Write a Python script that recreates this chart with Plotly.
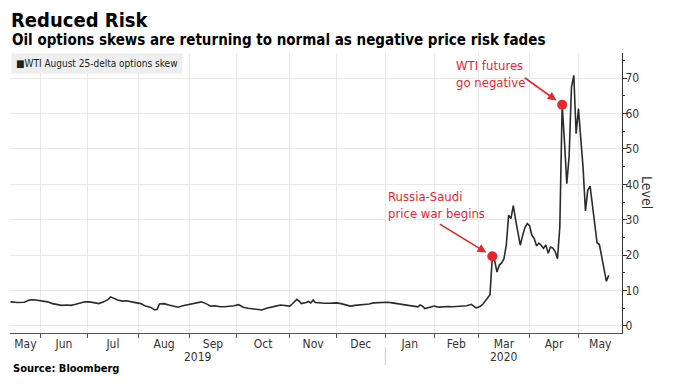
import pandas as pd
import plotly.graph_objects as go

# ---------------- data ----------------
dates = [
    "2019-05-14", "2019-05-17", "2019-05-22", "2019-05-24", "2019-05-29", "2019-05-31",
    "2019-06-04", "2019-06-06", "2019-06-10", "2019-06-12", "2019-06-14", "2019-06-18",
    "2019-06-20", "2019-06-24", "2019-06-26", "2019-06-28", "2019-07-02", "2019-07-05",
    "2019-07-09", "2019-07-11", "2019-07-15", "2019-07-16", "2019-07-17", "2019-07-19",
    "2019-07-23", "2019-07-25", "2019-07-29", "2019-07-31", "2019-08-02", "2019-08-06",
    "2019-08-08", "2019-08-12", "2019-08-13", "2019-08-14", "2019-08-16", "2019-08-20",
    "2019-08-22", "2019-08-26", "2019-08-28", "2019-08-30", "2019-09-04", "2019-09-06",
    "2019-09-10", "2019-09-12", "2019-09-16", "2019-09-18", "2019-09-20", "2019-09-24",
    "2019-09-26", "2019-09-30", "2019-10-02", "2019-10-04", "2019-10-08", "2019-10-10",
    "2019-10-14", "2019-10-16", "2019-10-18", "2019-10-22", "2019-10-24", "2019-10-28",
    "2019-10-30", "2019-11-01", "2019-11-04", "2019-11-06", "2019-11-07", "2019-11-08",
    "2019-11-12", "2019-11-13", "2019-11-14", "2019-11-15", "2019-11-18", "2019-11-20",
    "2019-11-22", "2019-11-26", "2019-12-02", "2019-12-04", "2019-12-06", "2019-12-10",
    "2019-12-12", "2019-12-16", "2019-12-18", "2019-12-20", "2019-12-24", "2019-12-27",
    "2019-12-31", "2020-01-03", "2020-01-07", "2020-01-09", "2020-01-13", "2020-01-15",
    "2020-01-17", "2020-01-22", "2020-01-23", "2020-01-24", "2020-01-27", "2020-01-28",
    "2020-01-30", "2020-02-03", "2020-02-05", "2020-02-07", "2020-02-11", "2020-02-13",
    "2020-02-18", "2020-02-20", "2020-02-24", "2020-02-26", "2020-02-27", "2020-02-28",
    "2020-03-02", "2020-03-03", "2020-03-04", "2020-03-05", "2020-03-06", "2020-03-09",
    "2020-03-10", "2020-03-11", "2020-03-12", "2020-03-13", "2020-03-16", "2020-03-17",
    "2020-03-18", "2020-03-19", "2020-03-20", "2020-03-23", "2020-03-24", "2020-03-25",
    "2020-03-26", "2020-03-27", "2020-03-30", "2020-03-31", "2020-04-01", "2020-04-02",
    "2020-04-03", "2020-04-06", "2020-04-07", "2020-04-08", "2020-04-09", "2020-04-13",
    "2020-04-14", "2020-04-15", "2020-04-16", "2020-04-17", "2020-04-20", "2020-04-21",
    "2020-04-22", "2020-04-23", "2020-04-24", "2020-04-27", "2020-04-28", "2020-04-29",
    "2020-04-30", "2020-05-01", "2020-05-04", "2020-05-05", "2020-05-06", "2020-05-07",
    "2020-05-08", "2020-05-11", "2020-05-12", "2020-05-13", "2020-05-14", "2020-05-15",
    "2020-05-18", "2020-05-19", "2020-05-20",
]
skew = [
    6.8, 6.6, 6.7, 7.3, 7.4, 7.2,
    7.1, 6.8, 6.3, 6.0, 5.8, 5.9,
    5.8, 6.1, 6.5, 6.8, 6.8, 6.6,
    6.3, 6.8, 7.5, 8.2, 7.9, 7.3,
    7.0, 7.1, 6.8, 6.6, 6.3, 5.6,
    5.3, 4.5, 4.7, 6.2, 6.3, 5.9,
    5.6, 5.3, 5.7, 6.0, 6.2, 6.5,
    6.8, 6.3, 5.6, 5.7, 5.4, 5.4,
    5.5, 5.7, 6.0, 5.3, 5.0, 4.9,
    4.8, 4.5, 5.0, 5.4, 5.6, 5.9,
    5.8, 5.6, 6.2, 7.5, 7.0, 6.3,
    6.6, 6.9, 6.5, 7.3, 6.6, 6.4,
    6.4, 6.4, 6.5, 6.3, 5.9, 5.6,
    5.8, 5.9, 6.1, 6.2, 6.5, 6.6,
    6.8, 6.7, 6.5, 6.3, 6.0, 5.8,
    5.8, 5.5, 5.4, 5.9, 5.6, 4.9,
    5.3, 5.6, 5.3, 5.5, 5.5, 5.4,
    5.5, 5.5, 5.7, 6.1, 5.6, 5.1,
    5.3, 5.6, 6.2, 7.0, 8.0, 8.8,
    19.7, 18.5, 15.2, 17.2, 17.8, 19.0,
    22.8, 31.3, 30.3, 34.0, 30.0, 26.0,
    22.8, 25.5, 27.8, 28.9, 28.3, 25.6,
    24.7, 22.6, 23.4, 22.8, 21.9, 22.9,
    20.5, 22.3, 22.0, 21.0, 19.0, 28.0,
    62.5, 52.0, 40.2, 48.0, 67.5, 70.8,
    54.3, 61.4, 54.0, 44.5, 32.5, 38.3,
    39.5, 34.5, 29.5, 23.5, 23.0, 19.5,
    16.0, 12.6, 14.3,
]

event_dates = ["2020-03-10", "2020-04-22"]
event_values = [19.7, 62.5]
event_labels = ["Russia-Saudi<br>price war begins", "WTI futures<br>go negative"]

series_name = "WTI August 25-delta options skew"
month_names = ["May", "Jun", "Jul", "Aug", "Sep", "Oct", "Nov", "Dec",
               "Jan", "Feb", "Mar", "Apr", "May"]
year_labels = ["2019", "2020"]
holidays = ["2019-05-27", "2019-07-04", "2019-09-02", "2019-11-28", "2019-12-25",
            "2020-01-01", "2020-01-20", "2020-02-17", "2020-04-10", "2020-05-25"]

# ---------------- layout helpers ----------------
PAGE_W, PAGE_H = 680, 386
OFF = 8                      # default page margin of the html body
PL, PR, PT, PB = 10, 621.7, 52.7, 332.7   # plot box in page pixels
W, H = PAGE_W - OFF, PAGE_H - OFF
ML, MR, MT, MB = PL - OFF, PAGE_W - PR, PT - OFF, PAGE_H - PB
PW, PH = PR - PL, PB - PT
RED = "#e8262d"
TXT = "#333333"
FONT = "DejaVu Sans Condensed, Liberation Sans Narrow, Liberation Sans, sans-serif"

x_start = pd.Timestamp("2019-05-13 19:00")
x_end = pd.Timestamp("2020-05-28 17:00")

tdays = pd.bdate_range("2019-05-13", "2020-05-29", freq="C", holidays=holidays)


def pos_of(ts):
    """fractional trading-day index of a timestamp"""
    d = ts.normalize()
    i = tdays.searchsorted(d)
    return i + (ts - d) / pd.Timedelta(days=1)


def ts_of(p):
    i = int(p)
    return tdays[i] + pd.Timedelta(days=p - i)


month_starts = []
m = pd.Timestamp("2019-06-01")
while m <= x_end:
    month_starts.append(tdays[tdays.searchsorted(m)])
    m = m + pd.DateOffset(months=1)

bounds = [pos_of(x_start)] + [pos_of(t) for t in month_starts] + [pos_of(x_end)]
label_pos = [ts_of((a + b) / 2) for a, b in zip(bounds[:-1], bounds[1:])]


def px_x(px):
    return (px - PL) / PW


def px_y(py):
    return (PB - py) / PH


fig = go.Figure()
fig.add_trace(go.Scatter(
    x=dates, y=skew, mode="lines", name=series_name,
    line=dict(color="#2b2b2b", width=1.6), showlegend=False,
))
fig.add_trace(go.Scatter(
    x=event_dates, y=event_values, mode="markers",
    marker=dict(color=RED, size=10), showlegend=False,
))

annotations = []
# arrows to the event dots
for d, v, (ax, ay) in zip(event_dates, event_values, [(-54, -33), (-39, -28)]):
    annotations.append(dict(
        x=d, y=v, xref="x", yref="y", text="", showarrow=True,
        ax=ax, ay=ay, arrowhead=2, arrowsize=1.1, arrowwidth=1.6,
        arrowcolor=RED, standoff=7,
    ))
# event texts
for lbl, (px, py) in zip(event_labels, [(386, 205), (454, 74)]):
    annotations.append(dict(
        x=px_x(px), y=px_y(py), xref="paper", yref="paper", text=lbl,
        showarrow=False, xanchor="left", yanchor="middle", align="left",
        font=dict(family=FONT, size=13, color=RED),
    ))
# titles
annotations.append(dict(x=0, y=px_y(19.5), xref="paper", yref="paper",
                        text="<b>Reduced Risk</b>", showarrow=False,
                        xanchor="left", yanchor="middle", borderpad=0,
                        font=dict(family=FONT, size=20, color="#000")))
annotations.append(dict(x=0, y=px_y(40), xref="paper", yref="paper",
                        text="<b>Oil options skews are returning to normal as negative price risk fades</b>",
                        showarrow=False, xanchor="left", yanchor="middle",
                        font=dict(family=FONT, size=15, color="#000")))
annotations.append(dict(x=px_x(11), y=px_y(368), xref="paper", yref="paper",
                        text="<b>Source: Bloomberg</b>", showarrow=False,
                        xanchor="left", yanchor="middle",
                        font=dict(family=FONT, size=11, color="#000")))
# legend box
annotations.append(dict(x=px_x(11), y=px_y(53), xref="paper", yref="paper",
                        text="■" + series_name, showarrow=False,
                        xanchor="left", yanchor="top", bgcolor="#eeeeee",
                        borderpad=4,
                        font=dict(family=FONT, size=10, color="#222")))
# y-axis title
annotations.append(dict(x=px_x(656), y=px_y(192), xref="paper", yref="paper",
                        text="Level", showarrow=False, textangle=90,
                        font=dict(family=FONT, size=14, color=TXT)))
# year labels
jan = pos_of(month_starts[7])
for yl, (a, b) in zip(year_labels, [(bounds[0], jan), (jan, bounds[-1])]):
    annotations.append(dict(x=ts_of((a + b) / 2), y=px_y(357), xref="x", yref="paper",
                            text=yl, showarrow=False, yanchor="middle",
                            font=dict(family=FONT, size=12, color=TXT)))

shapes = [dict(type="line", xref="x", yref="paper",
               x0=month_starts[7], x1=month_starts[7],
               y0=px_y(347), y1=px_y(365),
               line=dict(color="#cccccc", width=1))]

fig.update_layout(
    width=W, height=H,
    margin=dict(l=ML, r=MR, t=MT, b=MB, autoexpand=False),
    paper_bgcolor="white", plot_bgcolor="white",
    annotations=annotations, shapes=shapes,
    xaxis=dict(
        type="date", range=[x_start, x_end],
        rangebreaks=[dict(bounds=["sat", "mon"]), dict(values=holidays)],
        tickmode="array", tickvals=label_pos, ticktext=month_names,
        ticks="", showgrid=False, showline=True, linecolor="#555", linewidth=1,
        tickfont=dict(family=FONT, size=12, color=TXT),
        minor=dict(tickmode="array", tickvals=month_starts, ticks="outside",
                   ticklen=4, tickcolor="#555", showgrid=True,
                   gridcolor="#e9e9e9", gridwidth=1),
        zeroline=False,
    ),
    yaxis=dict(
        side="right", range=[-2, 77.1], tick0=0, dtick=10,
        ticks="outside", ticklen=4, tickcolor="#333",
        ticklabelstandoff=-4,
        showline=True, linecolor="#333", linewidth=1,
        showgrid=True, gridcolor="#e9e9e9", zeroline=False,
        tickfont=dict(family=FONT, size=12, color=TXT),
        minor=dict(dtick=5, tick0=0, ticks="outside", ticklen=2, tickcolor="#333",
                   showgrid=False),
    ),
)

fig.write_html("out.html")
